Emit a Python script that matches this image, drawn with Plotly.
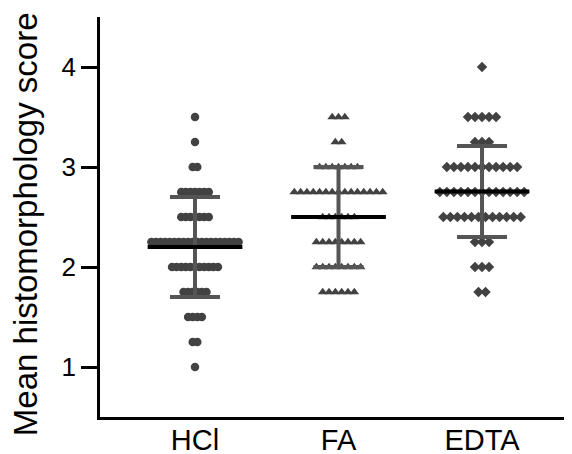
import plotly.graph_objects as go
from collections import Counter

# ---- data ----
groups = ["HCl", "FA", "EDTA"]

hcl = [3.5, 3.25, 3.0, 3.0,
       2.75, 2.75, 2.75, 2.75, 2.75, 2.75, 2.75,
       2.5, 2.5, 2.5, 2.5, 2.5, 2.5, 2.5,
       2.25, 2.25, 2.25, 2.25, 2.25, 2.25, 2.25, 2.25, 2.25, 2.25,
       2.25, 2.25, 2.25, 2.25, 2.25, 2.25, 2.25, 2.25, 2.25, 2.25,
       2.0, 2.0, 2.0, 2.0, 2.0, 2.0, 2.0, 2.0, 2.0, 2.0, 2.0,
       1.75, 1.75, 1.75, 1.75, 1.75, 1.75,
       1.5, 1.5, 1.5, 1.5,
       1.25, 1.25, 1.0]

fa = [3.5, 3.5, 3.5, 3.25, 3.25,
      3.0, 3.0, 3.0, 3.0, 3.0, 3.0, 3.0,
      2.75, 2.75, 2.75, 2.75, 2.75, 2.75, 2.75, 2.75, 2.75, 2.75,
      2.75, 2.75, 2.75, 2.75, 2.75,
      2.5, 2.5, 2.5, 2.5, 2.5, 2.5,
      2.25, 2.25, 2.25, 2.25, 2.25, 2.25, 2.25, 2.25,
      2.0, 2.0, 2.0, 2.0, 2.0, 2.0, 2.0, 2.0,
      1.75, 1.75, 1.75, 1.75, 1.75, 1.75]

edta = [4.0, 3.5, 3.5, 3.5, 3.5, 3.5, 3.25, 3.25, 3.25,
        3.0, 3.0, 3.0, 3.0, 3.0, 3.0, 3.0, 3.0, 3.0, 3.0, 3.0,
        2.75, 2.75, 2.75, 2.75, 2.75, 2.75, 2.75, 2.75, 2.75, 2.75,
        2.75, 2.75, 2.75,
        2.5, 2.5, 2.5, 2.5, 2.5, 2.5, 2.5, 2.5, 2.5, 2.5, 2.5, 2.5,
        2.25, 2.25, 2.25, 2.0, 2.0, 2.0, 1.75, 1.75]

means = [2.2, 2.5, 2.755]
sds = [0.5, 0.5, 0.455]

y_ticks = [1, 2, 3, 4]
y_title = "Mean histomorphology score"

# ---- styling ----
symbols = ["circle", "triangle-up", "diamond"]
spacing = [0.032, 0.044, 0.049]   # horizontal swarm step (data units)
marker_sizes = [8.5, 8.5, 8]
dot_color = "#424242"
bar_color = "#555555"

fig = go.Figure()

for gi, vals in enumerate([hcl, fa, edta]):
    counts = Counter(vals)
    xs, ys = [], []
    for level, n in counts.items():
        for i in range(n):
            xs.append(gi + (i - (n - 1) / 2) * spacing[gi])
            ys.append(level)
    fig.add_trace(go.Scatter(
        x=xs, y=ys, mode="markers",
        marker=dict(symbol=symbols[gi], size=marker_sizes[gi], color=dot_color,
                    line=dict(width=0)),
        showlegend=False, hoverinfo="y"))

# SD error bars
fig.add_trace(go.Scatter(
    x=list(range(len(groups))), y=means, mode="markers",
    marker=dict(size=0.1, color="rgba(0,0,0,0)"),
    error_y=dict(type="data", array=sds, visible=True, color=bar_color,
                 thickness=4, width=25),
    showlegend=False, hoverinfo="skip"))

# mean lines
half = 0.33
for gi, m in enumerate(means):
    fig.add_trace(go.Scatter(
        x=[gi - half, gi + half], y=[m, m], mode="lines",
        line=dict(color="black", width=4),
        showlegend=False, hoverinfo="skip"))

font_family = "Liberation Sans, Arial, sans-serif"

# the page adds an 8px body margin, compensated in the figure margins
fig.update_layout(
    width=572, height=454,
    margin=dict(l=92, r=8, t=9, b=45),
    paper_bgcolor="white", plot_bgcolor="white",
    font=dict(family=font_family, color="black"),
    xaxis=dict(
        range=[-0.662, 2.627],
        tickvals=list(range(len(groups))), ticktext=groups,
        tickfont=dict(size=29, color="black"),
        showline=True, linecolor="black", linewidth=2.5,
        ticks="", ticklen=0, ticklabelstandoff=-5,
        showgrid=False, zeroline=False, automargin=False),
    yaxis=dict(
        range=[0.5, 4.5],
        tickvals=y_ticks,
        tickfont=dict(size=26, color="black"),
        ticks="outside", ticklen=16, tickwidth=2.5, tickcolor="black",
        showline=True, linecolor="black", linewidth=2.5,
        showgrid=False, zeroline=False, automargin=False),
    annotations=[dict(
        text=y_title, textangle=-90, showarrow=False,
        xref="paper", yref="paper", x=-0.159, y=0.482,
        xanchor="center", yanchor="middle",
        font=dict(size=33, color="black"))],
)

fig.write_html("out.html")
